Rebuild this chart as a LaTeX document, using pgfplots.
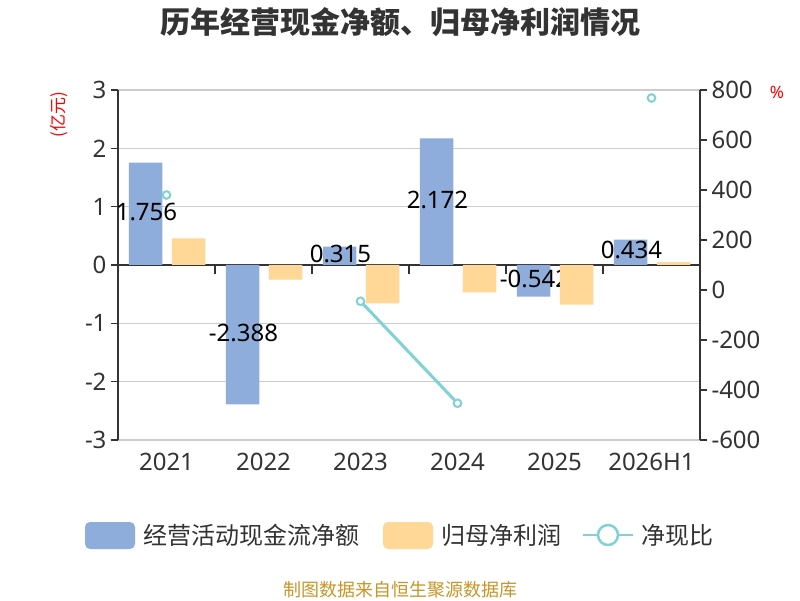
\documentclass[border=0pt]{standalone}
\usepackage{pgfplots}
\pgfplotsset{compat=1.18}
\usepackage{fontspec}
\setmainfont{Noto Sans}
\newfontfamily\cjk{Noto Sans CJK SC}
\definecolor{cblue}{RGB}{143,173,219}
\definecolor{corange}{RGB}{255,215,150}
\definecolor{ccyan}{RGB}{128,210,214}
\definecolor{cdark}{RGB}{51,51,51}
\definecolor{cgrid}{RGB}{204,204,204}
\definecolor{csrc}{RGB}{200,150,40}
\pgfplotsset{base/.style={
  at={(118pt,160pt)}, anchor=south west, scale only axis,
  width=582pt, height=350pt, xmin=-0.5, xmax=5.5,
  ticklabel style={font=\fontsize{24}{28}\selectfont, text=cdark},
  /pgf/number format/assume math mode=true,
  tick align=outside, major tick length=7pt, clip=false}}
\begin{document}
\begin{tikzpicture}[x=1pt,y=1pt]
\path[use as bounding box, fill=white] (0,0) rectangle (800,600);
\begin{axis}[base,
  ymin=-3, ymax=3,
  xtick={0,1,2,3,4,5},
  xticklabels={2021,2022,2023,2024,2025,2026H1},
  ytick={-3,-2,-1,0,1,2,3},
  axis x line*=bottom, axis y line*=left,
  x axis line style={draw=none},
  y axis line style={cdark, line width=1.5pt},
  xtick style={draw=none},
  ytick style={cdark, line width=1.5pt},
  ymajorgrids, grid style={cgrid, line width=1.5pt},
  xticklabel style={yshift=-3pt},
  yticklabel style={xshift=-1pt},
]
\draw[cdark, line width=1.5pt] (axis cs:-0.5,0) -- (axis cs:5.5,0);
\draw[cdark, line width=1.5pt] (axis cs:0.5,0) -- ++(0pt,-9pt);
\draw[cdark, line width=1.5pt] (axis cs:1.5,0) -- ++(0pt,-9pt);
\draw[cdark, line width=1.5pt] (axis cs:2.5,0) -- ++(0pt,-9pt);
\draw[cdark, line width=1.5pt] (axis cs:3.5,0) -- ++(0pt,-9pt);
\draw[cdark, line width=1.5pt] (axis cs:4.5,0) -- ++(0pt,-9pt);
\addplot[ybar, bar width=33.5pt, bar shift=-21pt, fill=cblue, draw=none,
  nodes near coords,
  visualization depends on={rawy \as \rawy},
  every node near coord/.style={anchor=center, text=black,
    font=\fontsize{24}{28}\selectfont, xshift=-20pt, yshift=2pt,
    shift={(axis direction cs:0,{-\rawy/2})}},
  /pgf/number format/.cd, fixed, precision=3, assume math mode=true]
coordinates {(0,1.756) (1,-2.388) (2,0.315) (3,2.172) (4,-0.542) (5,0.434)};
\end{axis}
\begin{axis}[base, ymin=-3, ymax=3, axis lines=none]
\addplot[ybar, bar width=33.5pt, bar shift=22pt, fill=corange, draw=none]
coordinates {(0,0.455) (1,-0.25) (2,-0.66) (3,-0.47) (4,-0.68) (5,0.05)};
\end{axis}
\begin{axis}[base,
  ymin=-600, ymax=800,
  ytick={-600,-400,...,800},
  axis x line=none, axis y line*=right,
  y axis line style={cdark, line width=1.5pt},
  ytick style={cdark, line width=1.5pt},
  yticklabel style={xshift=1pt},
  unbounded coords=jump,
]
\addplot[ccyan, line width=3pt, mark=*, mark size=3.8pt,
  mark options={fill=white, line width=2pt}]
coordinates {(0,380) (1,nan) (2,-45) (3,-453) (4,nan) (5,768)};
\end{axis}
\node[font=\cjk\bfseries\fontsize{30}{34}\selectfont, text=cdark] at (400,578) {历年经营现金净额、归母净利润情况};
\node[font=\cjk\fontsize{17}{19}\selectfont, text=red, rotate=90] at (59,485) {(亿元)};
\node[font=\fontsize{17}{18}\selectfont, text=red] at (777,508) {\%};
\fill[cblue, rounded corners=5pt] (85,51) rectangle (135,78);
\node[anchor=west, font=\cjk\fontsize{24}{27}\selectfont, text=cdark] at (140,65) {经营活动现金流净额};
\fill[corange, rounded corners=5pt] (383,51) rectangle (433,78);
\node[anchor=west, font=\cjk\fontsize{24}{27}\selectfont, text=cdark] at (438,65) {归母净利润};
\draw[ccyan, line width=2.5pt] (583,65) -- (633,65);
\draw[ccyan, line width=2.5pt, fill=white] (608,65) circle (10);
\node[anchor=west, font=\cjk\fontsize{24}{27}\selectfont, text=cdark] at (638,65) {净现比};
\node[font=\cjk\fontsize{18}{20}\selectfont, text=csrc] at (400,10) {制图数据来自恒生聚源数据库};
\end{tikzpicture}
\end{document}
